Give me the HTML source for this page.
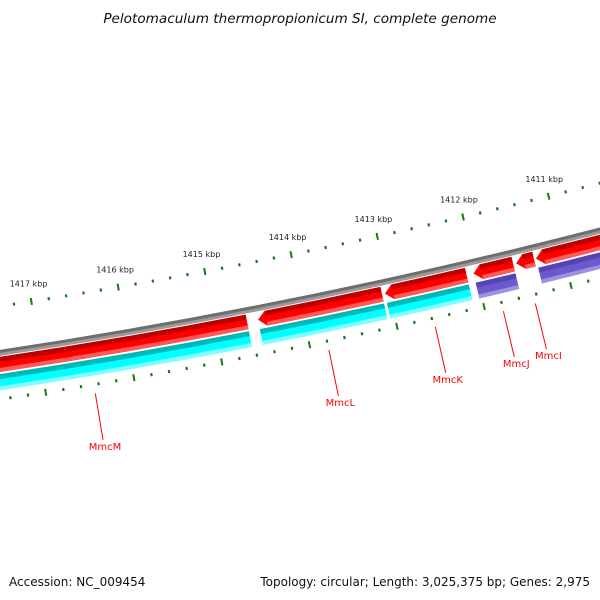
<!DOCTYPE html>
<html><head><meta charset="utf-8"><style>
html,body{margin:0;padding:0;background:#fff}
svg{display:block}
</style></head><body>
<svg id="map" width="600" height="600" viewBox="0 0 600 600" xmlns="http://www.w3.org/2000/svg">
<rect width="600" height="600" fill="#fff"/>
<text x="300" y="23" text-anchor="middle" font-family="'DejaVu Sans','Liberation Sans',sans-serif" font-style="italic" font-size="13.6" fill="#111">Pelotomaculum thermopropionicum SI, complete genome</text>
<text x="9" y="586" font-family="'DejaVu Sans','Liberation Sans',sans-serif" font-size="12" fill="#111">Accession: NC_009454</text>
<text x="590" y="586" text-anchor="end" font-family="'DejaVu Sans','Liberation Sans',sans-serif" font-size="12" fill="#111">Topology: circular; Length: 3,025,375 bp; Genes: 2,975</text>
<g id="layer"></g>
</svg>
<script>
// ---- data ----
const geneNames = ["MmcM", "MmcL", "MmcK", "MmcJ", "MmcI", ""];
const geneStarts = [1414637, 1413087, 1412111, 1411572, 1411331, 1409000];
const geneEnds = [1418271, 1414511, 1413053, 1412031, 1411538, 1411308];
const geneCategory = ["cyan", "cyan", "cyan", "purple", "none", "purple"];
const tickStart = 1409000;
const tickEnd = 1419400;
const tickStep = 200;

// ---- geometry ----
const CX = -895, CY = -5576;
const A0 = 1.3701, REF = 1414000, K = 1.479e-5;
const RB = 5996;
const NS = "http://www.w3.org/2000/svg";
const layer = document.getElementById('layer');
function ang(bp){ return A0 + (bp - REF) * K; }
function pt(r, bp){ const a = ang(bp); return [CX + r*Math.cos(a), CY + r*Math.sin(a)]; }
function f(p){ return p[0].toFixed(2)+","+p[1].toFixed(2); }
function band(r1, r2, lo, hi, arrow){
  const ab = 8/(RB*K);
  const he = arrow ? Math.max(lo, hi - ab) : hi;
  let d = "M"+f(pt(r2,lo))+" A"+r2+","+r2+" 0 0 1 "+f(pt(r2,he));
  if(arrow) d += " L"+f(pt((r1+r2)/2,hi));
  d += " L"+f(pt(r1,he))+" A"+r1+","+r1+" 0 0 0 "+f(pt(r1,lo))+" Z";
  return d;
}
function addPath(d, fill, name){
  const p = document.createElementNS(NS,'path');
  p.setAttribute('d', d);
  p.setAttribute('fill', fill);
  
  
  layer.appendChild(p);
  return p;
}

// backbone
addPath(band(RB-3, RB+3, 1408000, 1420000, false), "#9a9a9a", "backbone");
addPath(band(RB-3, RB, 1408000, 1420000, false), "#6e6e6e", "backbone-shade");

// genes
for(let i=0;i<geneNames.length;i++){
  const lo = geneStarts[i], hi = geneEnds[i];
  const arrow = hi < 1418000;
  const ab = 8/(RB*K);
  addPath(band(RB+4, RB+19, lo, hi, arrow), "#ff0000", "gene-"+(geneNames[i]||"unnamed").toLowerCase());
  const he = arrow ? hi-ab : hi;
  addPath(band(RB+4, RB+9, lo, he, false), "#c00000", "gene-shade-top");
  addPath(band(RB+15, RB+19, lo, he, false), "#ff5a5a", "gene-shade-bottom");
  const cat = geneCategory[i];
  if(cat !== "none"){
    const main = cat==="cyan" ? "#00ffff" : "#6a5acd";
    const top = cat==="cyan" ? "#00b8b8" : "#5444b4";
    const bot = cat==="cyan" ? "#80ffff" : "#9d92e2";
    addPath(band(RB+21, RB+37, lo, hi, false), main, "category-"+cat);
    addPath(band(RB+21, RB+26, lo, hi, false), top, "category-shade-top");
    addPath(band(RB+33, RB+37, lo, hi, false), bot, "category-shade-bottom");
  }
  if(geneNames[i]){
    const c = (lo+hi)/2;
    const p1 = pt(RB+55, c), p2 = pt(RB+102, c);
    const ln = document.createElementNS(NS,'line');
    ln.setAttribute('x1',p1[0]); ln.setAttribute('y1',p1[1]);
    ln.setAttribute('x2',p2[0]); ln.setAttribute('y2',p2[1]);
    ln.setAttribute('stroke','#ff0000'); ln.setAttribute('stroke-width','1');
    
    
    layer.appendChild(ln);
    const t = document.createElementNS(NS,'text');
    t.setAttribute('x', p2[0]+2); t.setAttribute('y', p2[1]+10);
    t.setAttribute('text-anchor','middle');
    t.setAttribute('font-family',"'DejaVu Sans','Liberation Sans',sans-serif");
    t.setAttribute('font-size','10');
    t.setAttribute('fill','#ff0000');
    t.textContent = geneNames[i];
    
    
    layer.appendChild(t);
  }
}

// ticks
function tick(rc, len, bp, w, name){
  const a = pt(rc-len/2, bp), b = pt(rc+len/2, bp);
  const ln = document.createElementNS(NS,'line');
  ln.setAttribute('x1',a[0]); ln.setAttribute('y1',a[1]);
  ln.setAttribute('x2',b[0]); ln.setAttribute('y2',b[1]);
  ln.setAttribute('stroke','#117a11'); ln.setAttribute('stroke-width',w);
  
  
  layer.appendChild(ln);
}
for(let bp=tickStart; bp<=tickEnd; bp+=tickStep){
  const major = bp % 1000 === 0;
  tick(RB-46, major?7:3, bp, major?2:2.2, major?'tick-major':'tick-minor');
  tick(RB+46, major?7:3, bp, major?2:2.2, major?'tick-major':'tick-minor');
  if(major){
    const p = pt(RB-64, bp);
    const t = document.createElementNS(NS,'text');
    t.setAttribute('x', p[0]); t.setAttribute('y', p[1]+3);
    t.setAttribute('text-anchor','middle');
    t.setAttribute('font-family',"'DejaVu Sans','Liberation Sans',sans-serif");
    t.setAttribute('font-size','8');
    t.setAttribute('fill','#222');
    t.textContent = (bp/1000)+" kbp";
    
    
    layer.appendChild(t);
  }
}
</script>
</body></html>
